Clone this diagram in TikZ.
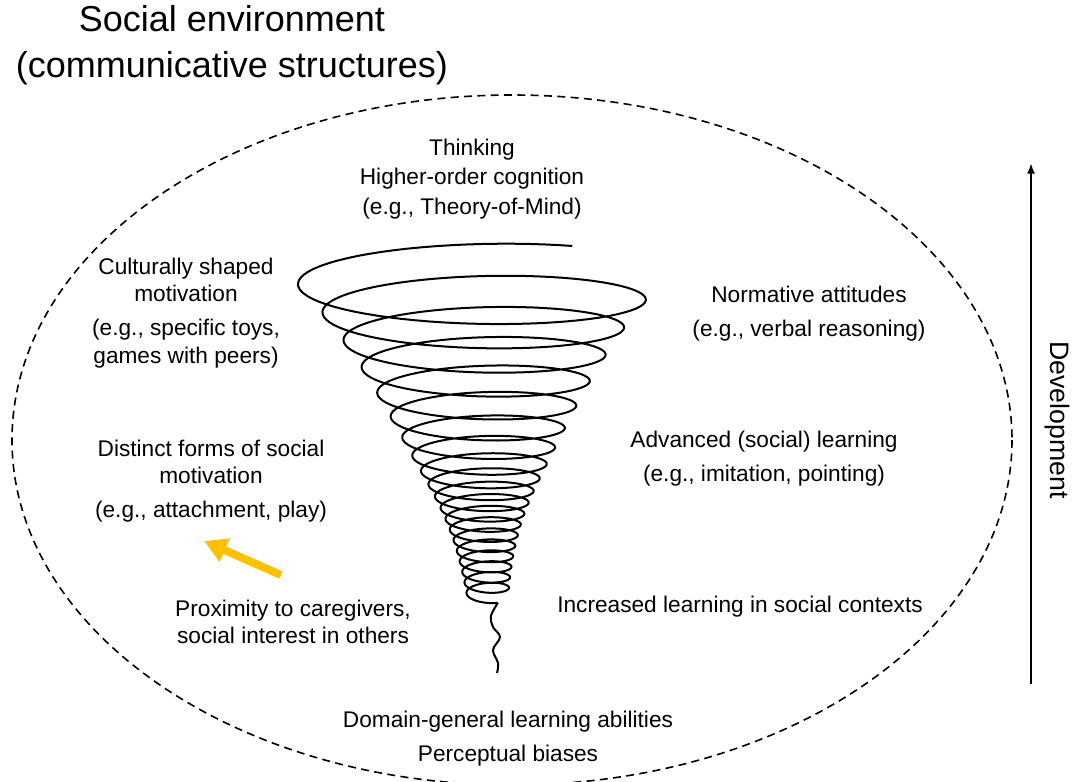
\documentclass[tikz,border=0pt]{standalone}
\usepackage{fontspec}
\setmainfont{Liberation Sans}
\usetikzlibrary{positioning, arrows.meta}
\definecolor{nudgeyellow}{HTML}{FFC000}
\tikzset{
    lbl/.style={align=center, inner sep=0pt, font=\fontsize{17}{20.5}\selectfont},
    ttl/.style={align=center, inner sep=0pt, font=\fontsize{27}{34.5}\selectfont},
    devlbl/.style={inner sep=0pt, rotate=-90, font=\fontsize{20}{24}\selectfont},
    envline/.style={line width=1.2pt, dash pattern=on 6pt off 4pt},
    ring/.style={line width=1.5pt, line join=round},
    devline/.style={line width=1.5pt, -{Latex[length=8pt,width=6pt]}},
    nudge/.style={line width=6pt, draw=nudgeyellow, -{Triangle[length=17pt,width=18pt]}},
    declare function={
        sp(\t)=(\t-120)/360;
        soft(\u)=ln(1+exp(\u));
        srx(\t)=12+168*exp(-sp(\t)/6.5);
        sry(\t)=0.16*srx(\t)+4;
        scy(\t)=285+10.5*sp(\t)+27*(soft(4)-soft((6-sp(\t))/1.5));
        sx(\t)=478+0.5*sp(\t)+srx(\t)*cos(-60-\t);
        sy(\t)=scy(\t)+sry(\t)*sin(-60-\t);
    },
}

\begin{document}
\begin{tikzpicture}[x=0.75pt, y=-0.75pt]
    \useasboundingbox (0,0) rectangle (1073,781);

    % social environment
    \draw[envline] (512,440) ellipse [x radius=500, y radius=345];
    \node[ttl] (env) at (232,45) {Social environment\\(communicative structures)};

    % spiral and its tail
    \draw[ring] plot[domain=0:7080, samples=1500, variable=\t] ({sx(\t)},{sy(\t)});
    \coordinate (tailtop) at (497.9,602.8);
    \coordinate (tailend) at (497,673);
    \draw[ring] plot[smooth, tension=0.6] coordinates {(tailtop) (491,616) (493,627) (500,637) (493,650) (498,663) (tailend)};

    % levels
    \node[lbl] (think) at (472,179) {Thinking\\[1.5pt]Higher-order cognition\\[1.5pt](e.g., Theory-of-Mind)};
    \node[lbl] (cult) at (186,313) {Culturally shaped\\motivation\\[5pt](e.g., specific toys,\\games with peers)};
    \node[lbl] (norm) at (809,314) {Normative attitudes\\[5pt](e.g., verbal reasoning)};
    \node[lbl] (socmot) at (211,481) {Distinct forms of social\\motivation\\[5pt](e.g., attachment, play)};
    \node[lbl] (adv) at (764,459) {Advanced (social) learning\\[5pt](e.g., imitation, pointing)};
    \node[lbl] (prox) at (293,622) {Proximity to caregivers,\\social interest in others};
    \node[lbl] (incr) at (740,607) {Increased learning in social contexts};
    \node[lbl] (domain) at (508,739) {Domain-general learning abilities\\[5pt]Perceptual biases};

    % yellow arrow
    \coordinate (nudgefrom) at (281,575);
    \coordinate (nudgeto) at (204,541);
    \draw[nudge] (nudgefrom) -- (nudgeto);

    % development axis
    \coordinate (devlo) at (1031,684);
    \coordinate (devhi) at (1031,163);
    \draw[devline] (devlo) -- (devhi);
    \node[devlbl] (dev) at (1057,420) {Development};
\end{tikzpicture}
\end{document}
